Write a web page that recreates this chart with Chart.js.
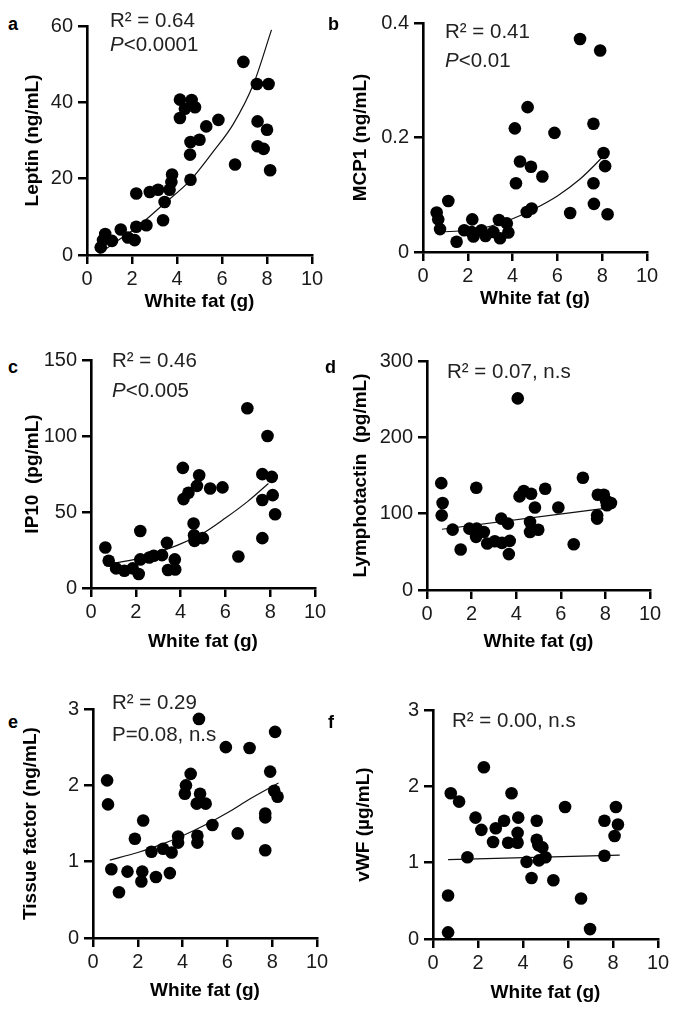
<!DOCTYPE html>
<html>
<head>
<meta charset="utf-8">
<script src="https://cdn.jsdelivr.net/npm/chart.js@4.4.1/dist/chart.umd.min.js"></script>
<style>
  html, body { margin:0; padding:0; background:#fff; }
  body { width:675px; height:1011px; position:relative; overflow:hidden; font-family:'Liberation Sans', Arial, sans-serif; }
  canvas { position:absolute; }
  .ann { position:absolute; font-size:20.5px; line-height:22px; color:#222; white-space:pre; z-index:5; }
  .lab { position:absolute; font-size:18px; line-height:20px; font-weight:bold; color:#000; z-index:5; }
</style>
</head>
<body>
<script>
// ---------- data ----------
const xTicks = [0, 2, 4, 6, 8, 10];
const xTitle = 'White fat (g)';

// a: Leptin
const leptinX = [0.61,0.71,0.81,1.11,1.5,1.82,2.12,2.19,2.19,2.64,2.79,3.16,3.38,3.45,3.67,3.75,3.78,4.13,4.13,4.35,4.65,4.8,4.6,4.58,4.6,5.0,5.3,5.84,6.58,6.95,7.55,8.07,7.58,8.0,7.58,7.85,8.14];
const leptinY = [2.0,3.9,5.5,3.7,6.7,4.6,3.9,16.1,7.4,7.8,16.5,17.1,9.1,13.9,17.1,19.1,21.1,40.7,35.9,38.3,40.6,38.7,19.7,26.3,29.6,30.2,33.7,35.4,23.7,50.6,44.8,44.8,35.0,32.8,28.5,27.8,22.2];
const leptinFitX = [0.55,1.5,2.2,3.4,4.6,5.6,6.5,7.4,8.2];
const leptinFitY = [0.4,4.3,7.2,13.3,19.6,27.0,34.3,44.8,59.0];

// b: MCP1
const mcp1X = [0.61,0.68,0.76,1.13,1.5,1.84,2.2,2.17,2.25,2.61,2.79,3.14,3.39,3.44,3.74,3.81,4.15,4.1,4.33,4.63,4.67,4.82,4.85,5.33,5.87,6.57,7.01,7.61,7.61,7.63,7.91,8.06,8.13,8.24];
const mcp1Y = [0.069,0.057,0.040,0.089,0.018,0.038,0.057,0.035,0.027,0.038,0.028,0.035,0.056,0.024,0.050,0.034,0.12,0.216,0.158,0.070,0.253,0.149,0.076,0.132,0.208,0.068,0.372,0.224,0.12,0.084,0.352,0.173,0.150,0.066];
const mcp1FitX = [0.8,2,3,4,5,6,7,8];
const mcp1FitY = [0.035,0.038,0.045,0.058,0.076,0.098,0.127,0.165];

// c: IP10
const ip10X = [0.64,0.79,1.12,1.49,1.86,2.13,2.2,2.2,2.6,2.8,3.17,3.39,3.44,3.74,3.76,4.1,4.13,4.35,4.58,4.6,4.62,4.73,4.83,4.99,5.32,5.87,6.58,6.98,7.65,7.65,7.65,7.88,8.07,8.11,8.22];
const ip10Y = [26.6,17.9,12.9,11.3,12.9,9.2,37.5,18.8,20.1,21.2,21.6,29.7,11.8,18.8,12.2,79,58.5,62.7,42.4,34.7,31.0,67.2,74.2,32.8,65.5,66.2,20.7,118.3,74.9,57.9,32.8,100,73.1,61.1,48.5];
const ip10FitX = [0.86,2,3,4,5,6,7,7.92];
const ip10FitY = [15.9,19,23.5,29,36,46,57,68.8];

// d: Lymphotactin
const lymphoX = [0.64,0.66,0.7,1.15,1.51,1.9,2.21,2.23,2.2,2.55,2.7,3.04,3.33,3.36,3.63,3.71,3.67,4.07,4.15,4.34,4.67,4.62,4.62,4.84,4.99,5.3,5.89,6.58,6.99,7.63,7.63,7.66,7.93,8.03,8.07,8.25];
const lymphoY = [140,97.8,114,79.1,53,80.4,134,80.4,69.6,76,60.9,63.9,93.5,61.7,87,64.3,47,251,122.6,129.6,126,89,76,108,79,132.6,108,60,147,97.8,93.5,124.8,124.8,117,111,114];
const lymphoFitX = [0.67,7.88];
const lymphoFitY = [79.6,106.5];

// e: Tissue factor
const tfX = [0.63,0.67,0.82,1.16,1.54,1.87,2.24,2.2,2.16,2.61,2.81,3.13,3.43,3.51,3.8,3.8,4.15,4.1,4.36,4.73,4.78,4.63,4.66,4.66,5.03,5.33,5.93,6.46,6.99,7.69,7.69,7.69,7.91,8.13,8.09,8.24];
const tfY = [2.065,1.75,0.90,0.60,0.87,1.30,1.54,0.87,0.74,1.13,0.80,1.17,0.85,1.12,1.33,1.25,2.0,1.89,2.15,2.87,1.89,1.76,1.34,1.25,1.76,1.48,2.5,1.37,2.49,1.63,1.58,1.15,2.18,2.70,1.93,1.85];
const tfFitX = [0.75,2,3,4,5,6,7,8.28];
const tfFitY = [1.02,1.12,1.22,1.34,1.48,1.64,1.82,2.03];

// f: vWF
const vwfX = [0.67,0.67,0.79,1.16,1.53,1.89,2.26,2.15,2.67,2.79,3.16,3.49,3.34,3.79,3.76,3.76,4.16,4.38,4.61,4.61,4.68,4.71,4.86,5.0,5.35,5.87,6.58,6.98,7.62,7.62,8.13,8.07,8.22];
const vwfY = [0.087,0.57,1.91,1.80,1.07,1.59,2.25,1.43,1.27,1.45,1.55,1.91,1.26,1.59,1.39,1.26,1.01,0.80,1.55,1.30,1.23,1.03,1.20,1.07,0.77,1.73,0.53,0.13,1.55,1.09,1.73,1.35,1.50];
const vwfFitX = [0.67,8.3];
const vwfFitY = [1.04,1.10];

// ---------- layout ----------
const FAM = "'Liberation Sans', Arial, sans-serif";
const TITLE_SIZE = 19;
const HALF = TITLE_SIZE * 1.2 / 2;

const panels = [
  {letter:'a', lx:8,   ly:25,  xs:leptinX, ys:leptinY, fx:leptinFitX, fy:leptinFitY, yMax:60,  yStep:20,  yTitle:'Leptin (ng/mL)',
   L:87,  T:25,  R:312, B:255, yTX:32,  xTY:302, padR:20, ann:[['R² = 0.64',110,21],['<i>P</i>&lt;0.0001',110,45]]},
  {letter:'b', lx:328, ly:25,  xs:mcp1X, ys:mcp1Y, fx:mcp1FitX, fy:mcp1FitY, yMax:0.4, yStep:0.2, yTitle:'MCP1 (ng/mL)',
   L:423, T:22,  R:647, B:252, yTX:360, xTY:299, padR:20, ann:[['R² = 0.41',445,32],['<i>P</i>&lt;0.01',445,61]]},
  {letter:'c', lx:8,   ly:368, xs:ip10X, ys:ip10Y, fx:ip10FitX, fy:ip10FitY, yMax:150, yStep:50,  yTitle:'IP10  (pg/mL)',
   L:91,  T:359, R:315, B:588, yTX:32,  xTY:642, padR:20, ann:[['R² = 0.46',112,361],['<i>P</i>&lt;0.005',112,391]]},
  {letter:'d', lx:325, ly:368, xs:lymphoX, ys:lymphoY, fx:lymphoFitX, fy:lymphoFitY, yMax:300, yStep:100, yTitle:'Lymphotactin  (pg/mL)',
   L:427, T:360, R:650, B:590, yTX:360, xTY:642, padR:20, ann:[['R² = 0.07, n.s',447,372]]},
  {letter:'e', lx:8,   ly:723, xs:tfX, ys:tfY, fx:tfFitX, fy:tfFitY, yMax:3, yStep:1, yTitle:'Tissue factor (ng/mL)',
   L:93,  T:708, R:317, B:938, yTX:30,  xTY:991, padR:20, ann:[['R² = 0.29',112,703],['P=0.08, n.s',112,735]]},
  {letter:'f', lx:328, ly:723, xs:vwfX, ys:vwfY, fx:vwfFitX, fy:vwfFitY, yMax:3, yStep:1, yTitle:'vWF (µg/mL)',
   L:433, T:709, R:658, B:939, yTX:363, xTY:993, padR:17, ann:[['R² = 0.00, n.s',452,721]]}
];

const PT = 16;

panels.forEach((p, i) => {
  const cl = Math.round(p.yTX - HALF);
  const yW = p.L - cl;
  const ct = p.T - PT;
  const xH = Math.round(p.xTY + HALF - p.B);
  const cw = (p.R - cl) + p.padR;
  const ch = PT + (p.B - p.T) + xH;

  const cv = document.createElement('canvas');
  cv.width = cw; cv.height = ch;
  cv.style.left = cl + 'px'; cv.style.top = ct + 'px';
  cv.style.width = cw + 'px'; cv.style.height = ch + 'px';
  document.body.appendChild(cv);

  const pts = p.xs.map((x, k) => ({x: x, y: p.ys[k]}));
  const fit = p.fx.map((x, k) => ({x: x, y: p.fy[k]}));

  const axisCommon = {
    type: 'linear',
    min: 0,
    grid: { drawOnChartArea: false, drawTicks: true, tickLength: 9, color: '#000', lineWidth: 2.5 },
    border: { display: true, color: '#000', width: 2.6 },
  };

  new Chart(cv, {
    type: 'scatter',
    data: {
      datasets: [
        { data: fit, showLine: true, borderColor: '#111', borderWidth: 1.2, pointRadius: 0,
          cubicInterpolationMode: 'monotone', fill: false, order: 2 },
        { data: pts, showLine: false, pointRadius: 6.3, pointBackgroundColor: '#000', pointBorderColor: '#000',
          pointBorderWidth: 0, order: 1 }
      ]
    },
    options: {
      responsive: false,
      animation: false,
      events: [],
      devicePixelRatio: 1,
      layout: { padding: { left: 0, top: PT, right: p.padR, bottom: 0 } },
      plugins: { legend: { display: false }, tooltip: { enabled: false } },
      scales: {
        x: Object.assign({}, axisCommon, {
          max: 10,
          afterBuildTicks: s => { s.ticks = xTicks.map(v => ({value: v})); },
          ticks: { color: '#1a1a1a', font: { size: 20, family: FAM }, padding: 3, maxRotation: 0, autoSkip: false },
          title: { display: true, text: xTitle, color: '#000', font: { size: TITLE_SIZE, weight: 'bold', family: FAM }, padding: 0 },
          afterFit: s => { s.height = xH; }
        }),
        y: Object.assign({}, axisCommon, {
          max: p.yMax,
          ticks: { stepSize: p.yStep, color: '#1a1a1a', font: { size: 20, family: FAM }, padding: 5 },
          title: { display: true, text: p.yTitle, color: '#000', font: { size: TITLE_SIZE, weight: 'bold', family: FAM }, padding: 0 },
          afterFit: s => { s.width = yW; }
        })
      }
    }
  });

  const lab = document.createElement('div');
  lab.className = 'lab';
  lab.textContent = p.letter;
  lab.style.left = p.lx + 'px';
  lab.style.top = (p.ly - 11) + 'px';
  document.body.appendChild(lab);

  p.ann.forEach(a => {
    const d = document.createElement('div');
    d.className = 'ann';
    d.innerHTML = a[0];
    d.style.left = a[1] + 'px';
    d.style.top = (a[2] - 12) + 'px';
    document.body.appendChild(d);
  });
});
</script>
</body>
</html>
